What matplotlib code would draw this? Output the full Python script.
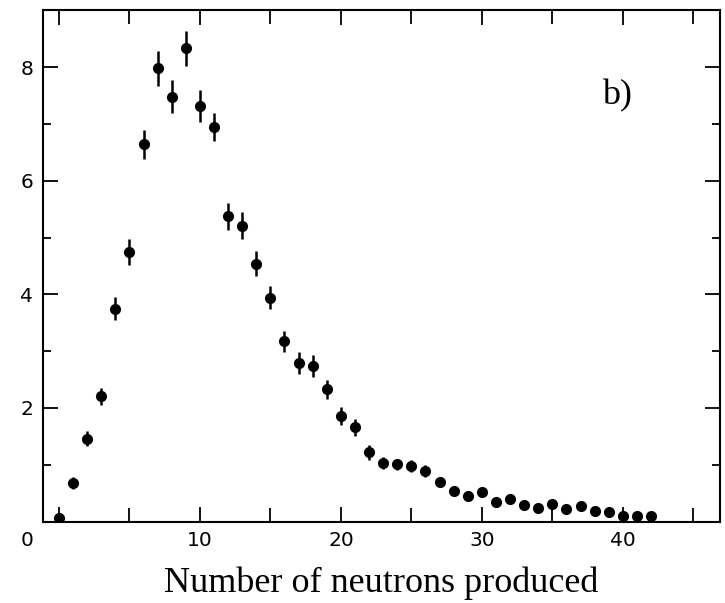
import matplotlib.pyplot as plt
from matplotlib.ticker import MultipleLocator

# neutron multiplicity distribution
n_neutrons = list(range(0, 43))
counts = [0.06, 0.68, 1.46, 2.21, 3.75, 4.74, 6.64, 7.98, 7.48, 8.33,
          7.31, 6.94, 5.37, 5.21, 4.54, 3.94, 3.17, 2.79, 2.74, 2.33,
          1.86, 1.66, 1.22, 1.03, 1.01, 0.98, 0.89, 0.70, 0.54, 0.45,
          0.52, 0.35, 0.39, 0.29, 0.24, 0.31, 0.22, 0.28, 0.19, 0.17,
          0.10, 0.09, 0.09]
errors = [0.08, 0.10, 0.13, 0.15, 0.20, 0.23, 0.26, 0.31, 0.29, 0.31,
          0.28, 0.25, 0.23, 0.24, 0.22, 0.20, 0.18, 0.19, 0.19, 0.17,
          0.16, 0.15, 0.13, 0.10, 0.10, 0.10, 0.10, 0.08, 0.08, 0.07,
          0.08, 0.06, 0.06, 0.05, 0.05, 0.05, 0.05, 0.05, 0.04, 0.04,
          0.04, 0.04, 0.04]
x_ticks = [0, 10, 20, 30, 40]
x_labels = ["", "10", "20", "30", "40"]
y_ticks = [0, 2, 4, 6, 8]
y_labels = ["", "2", "4", "6", "8"]

fig = plt.figure(figsize=(7.25, 6.03), dpi=100)
ax = fig.add_axes([0.0593, 0.135, 0.934, 0.848])

ax.errorbar(n_neutrons, counts, yerr=errors, fmt="o", color="black",
            markersize=7, elinewidth=1.8, capsize=0)

ax.set_xlim(-1.13, 46.9)
ax.set_ylim(0, 9.0)

ax.set_xticks(x_ticks)
ax.set_xticklabels(x_labels)
ax.set_yticks(y_ticks)
ax.set_yticklabels(y_labels)
ax.xaxis.set_minor_locator(MultipleLocator(5))
ax.yaxis.set_minor_locator(MultipleLocator(1))

ax.tick_params(which="both", direction="in", top=True, right=True,
               labelsize=14.5, width=1.3, color="black")
ax.tick_params(which="major", length=11, pad=7)
ax.tick_params(axis="x", which="minor", length=10)
ax.tick_params(axis="y", which="minor", length=6)

for side in ax.spines:
    ax.spines[side].set_linewidth(1.5)
    ax.spines[side].set_color("black")

# the lone "0" sits off to the left in the scan
ax.text(-0.0236, -0.036, "0", transform=ax.transAxes, ha="center",
        va="center", fontsize=14.5)

ax.text(39.6, 7.49, "b)", ha="center", va="center", fontsize=26,
        family="Liberation Serif")

ax.set_xlabel("Number of neutrons produced", fontsize=26,
              family="Liberation Serif", labelpad=12)

plt.savefig("out.png", dpi=100)
